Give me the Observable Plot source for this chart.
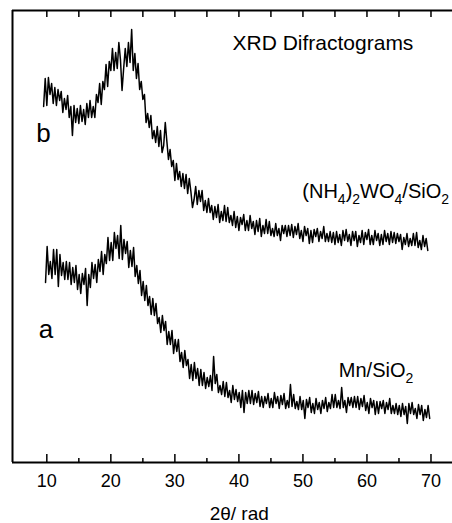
<!DOCTYPE html>
<html><head><meta charset="utf-8">
<script src="https://cdn.jsdelivr.net/npm/d3@7"></script>
<script src="https://cdn.jsdelivr.net/npm/@observablehq/plot@0.6"></script>
<style>body{margin:0;background:#fff} svg{display:block}</style>
</head><body><div id="chart"></div>
<script>
// 2θ sampling of the scans (degrees)
const startB = 9.5, startA = 9.8, step = 0.25;

// Curve b : (NH4)2WO4/SiO2 (arbitrary intensity units)
const intensityB = [
356,384,357,385,368,379,359,375,357,373,
362,371,350,364,353,367,345,356,327,357,
340,354,339,357,341,353,338,359,345,362,
345,356,345,368,360,379,358,381,373,398,
376,401,392,414,392,410,394,420,403,372,
394,414,396,420,400,433,392,409,384,399,
373,381,363,368,340,349,335,347,324,332,
320,336,316,332,310,317,340,321,303,313,
296,302,282,299,283,291,276,289,274,288,
269,284,271,255,263,276,258,272,261,272,
252,262,250,264,250,257,243,256,245,258,
240,251,242,257,241,255,240,247,237,251,
235,246,232,245,238,248,232,242,232,247,
234,241,228,242,231,244,226,237,229,243,
229,241,227,234,226,239,227,234,222,237,
229,237,226,237,227,238,225,236,228,239,
224,232,221,236,227,234,219,232,220,233,
226,234,221,231,224,236,221,229,221,231,
220,230,218,231,220,228,217,232,222,233,
221,228,217,231,222,231,216,227,220,232,
218,230,223,233,218,227,218,232,222,229,
217,228,218,232,221,229,218,231,220,230,
219,229,221,228,213,225,218,229,216,224,
217,229,217,230,215,222,213,227,216,224,212
];

// Curve a : Mn/SiO2
const intensityA = [
180,216,188,201,184,213,188,213,176,208,
187,200,183,201,183,200,178,195,180,197,
173,188,169,189,178,194,157,188,175,200,
184,198,180,203,191,211,188,208,199,225,
202,220,202,230,214,227,204,237,203,223,
209,221,195,212,196,215,186,197,179,192,
167,181,162,177,157,166,148,164,147,159,
139,145,130,147,132,141,118,131,118,132,
109,123,111,123,101,110,95,112,97,103,
84,98,82,100,84,94,77,93,77,90,
74,85,76,87,72,106,79,88,70,77,
68,81,66,80,65,72,60,77,63,73,
61,70,55,72,50,70,59,72,59,72,
58,69,60,71,56,66,55,66,59,69,
55,64,55,70,59,66,54,67,58,69,
54,62,55,78,56,68,54,61,53,66,
53,62,44,63,55,65,50,59,49,64,
53,60,49,62,54,65,51,60,54,68,
55,68,55,62,54,75,55,62,50,65,
57,65,55,66,55,66,53,64,56,67,
52,60,49,64,55,62,48,61,49,61,
54,62,49,60,53,64,49,57,49,59,
48,57,46,59,48,56,39,59,49,60,
48,54,44,58,48,57,42,53,45,57,44
];

const majorTicks = [10, 20, 30, 40, 50, 60, 70];
const minorTicks = [15, 25, 35, 45, 55, 65];
const xDomain = [4.64, 73.36];
const yDomain = [0, 452];

const titleLabel = [{x: 39.0, y: 413, text: "XRD Difractograms"}];
const curveLetters = [{x: 9.48, y: 321, text: "b"}, {x: 9.88, y: 125, text: "a"}];
const sampleNames = [{x: 49.9, y: 265, text: "(NH4)2WO4/SiO2"}, {x: 55.6, y: 86, text: "Mn/SiO2"}];
const axisTitle = [{x: 40.05, y: -57, text: "2θ/ rad"}];

const dataB = intensityB.map((v, i) => ({x: startB + i * step, y: v}));
const dataA = intensityA.map((v, i) => ({x: startA + i * step, y: v}));

const font = '"Liberation Sans", Arial, Helvetica, sans-serif';

const chart = Plot.plot({
  width: 452, height: 523,
  marginLeft: 12, marginRight: 0, marginTop: 10, marginBottom: 61,
  x: {domain: xDomain},
  y: {domain: yDomain, axis: null},
  style: {fontFamily: font, fontSize: "18px", background: "#fff", color: "#000"},
  marks: [
    Plot.ruleY([yDomain[0]], {stroke: "#000", strokeWidth: 2}),
    Plot.ruleY([yDomain[1]], {stroke: "#000", strokeWidth: 2}),
    Plot.ruleX([xDomain[0]], {stroke: "#000", strokeWidth: 2}),
    Plot.ruleX(majorTicks, {y1: 0, y2: 8, stroke: "#000", strokeWidth: 1.5}),
    Plot.ruleX(minorTicks, {y1: 0, y2: 4, stroke: "#000", strokeWidth: 1.5}),
    Plot.ruleX(majorTicks.concat(minorTicks), {y1: 445, y2: 452, stroke: "#000", strokeWidth: 1.5}),
    Plot.axisX({ticks: majorTicks, tickSize: 0, tickPadding: 12, label: null, fontSize: 18, tickFormat: d => String(d)}),
    Plot.line(dataB, {x: "x", y: "y", stroke: "#000", strokeWidth: 1.5}),
    Plot.line(dataA, {x: "x", y: "y", stroke: "#000", strokeWidth: 1.5}),
    Plot.text(titleLabel, {x: "x", y: "y", text: "text", textAnchor: "start", lineAnchor: "bottom", fontSize: 21, fill: "#000"}),
    Plot.text(curveLetters, {x: "x", y: "y", text: "text", textAnchor: "middle", lineAnchor: "bottom", fontSize: 26, fill: "#000"}),
    Plot.text(sampleNames, {x: "x", y: "y", text: "text", textAnchor: "start", lineAnchor: "bottom", fontSize: 20, fill: "#000"}),
    Plot.text(axisTitle, {x: "x", y: "y", text: "text", textAnchor: "middle", lineAnchor: "bottom", fontSize: 19, fill: "#000"})
  ]
});

// chemical subscripts
const chem = sampleNames.map(d => d.text);
chart.querySelectorAll("text").forEach(t => {
  const s = t.textContent;
  if (!chem.includes(s)) return;
  t.textContent = "";
  let shifted = false;
  s.split(/(\d)/).filter(p => p !== "").forEach(p => {
    const ts = document.createElementNS("http://www.w3.org/2000/svg", "tspan");
    const sub = /^\d$/.test(p);
    if (sub && !shifted) { ts.setAttribute("dy", "6"); shifted = true; }
    else if (!sub && shifted) { ts.setAttribute("dy", "-6"); shifted = false; }
    if (sub) ts.setAttribute("font-size", "14");
    ts.textContent = p;
    t.appendChild(ts);
  });
});

document.getElementById("chart").appendChild(chart);
</script>
</body></html>
